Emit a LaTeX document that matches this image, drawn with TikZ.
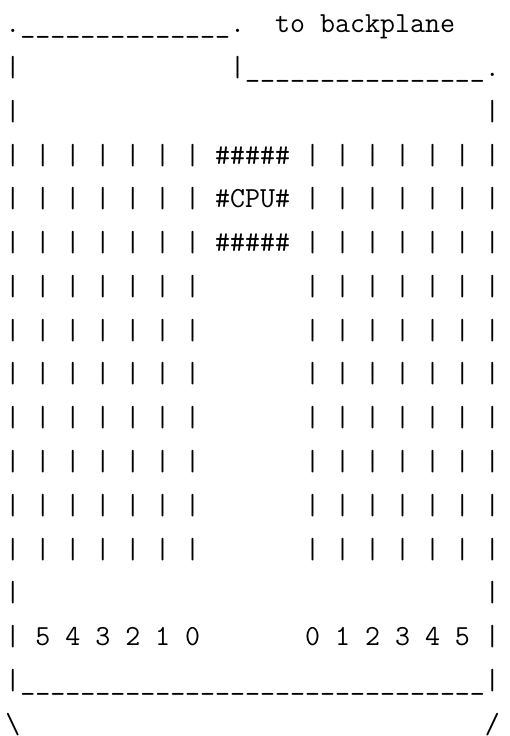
\documentclass[tikz,border=0pt]{standalone}
\usepackage{fontspec}
\setmonofont{Latin Modern Mono}
\newcommand{\asciiline}[2]{\node[asciitxt] (l#1) at (5.4pt,{-(32.8+(#1-1)*43.77)*1pt}) {#2};}
\begin{document}
\begin{tikzpicture}[asciitxt/.style={anchor=base west,inner sep=0pt,outer sep=0pt,font=\fontsize{29.1pt}{44pt}\ttfamily}]
\useasboundingbox (0,0) rectangle (509pt,-736pt);
\asciiline{1}{.\_\_\_\_\_\_\_\_\_\_\_\_\_\_.~~to~backplane}
\asciiline{2}{|~~~~~~~~~~~~~~|\_\_\_\_\_\_\_\_\_\_\_\_\_\_\_\_.}
\asciiline{3}{|~~~~~~~~~~~~~~~~~~~~~~~~~~~~~~~|}
\asciiline{4}{|~|~|~|~|~|~|~\#\#\#\#\#~|~|~|~|~|~|~|}
\asciiline{5}{|~|~|~|~|~|~|~\#CPU\#~|~|~|~|~|~|~|}
\asciiline{6}{|~|~|~|~|~|~|~\#\#\#\#\#~|~|~|~|~|~|~|}
\asciiline{7}{|~|~|~|~|~|~|~~~~~~~|~|~|~|~|~|~|}
\asciiline{8}{|~|~|~|~|~|~|~~~~~~~|~|~|~|~|~|~|}
\asciiline{9}{|~|~|~|~|~|~|~~~~~~~|~|~|~|~|~|~|}
\asciiline{10}{|~|~|~|~|~|~|~~~~~~~|~|~|~|~|~|~|}
\asciiline{11}{|~|~|~|~|~|~|~~~~~~~|~|~|~|~|~|~|}
\asciiline{12}{|~|~|~|~|~|~|~~~~~~~|~|~|~|~|~|~|}
\asciiline{13}{|~|~|~|~|~|~|~~~~~~~|~|~|~|~|~|~|}
\asciiline{14}{|~~~~~~~~~~~~~~~~~~~~~~~~~~~~~~~|}
\asciiline{15}{|~5~4~3~2~1~0~~~~~~~0~1~2~3~4~5~|}
\asciiline{16}{|\_\_\_\_\_\_\_\_\_\_\_\_\_\_\_\_\_\_\_\_\_\_\_\_\_\_\_\_\_\_\_|}
\asciiline{17}{\textbackslash~~~~~~~~~~~~~~~~~~~~~~~~~~~~~~~/}
\end{tikzpicture}
\end{document}
